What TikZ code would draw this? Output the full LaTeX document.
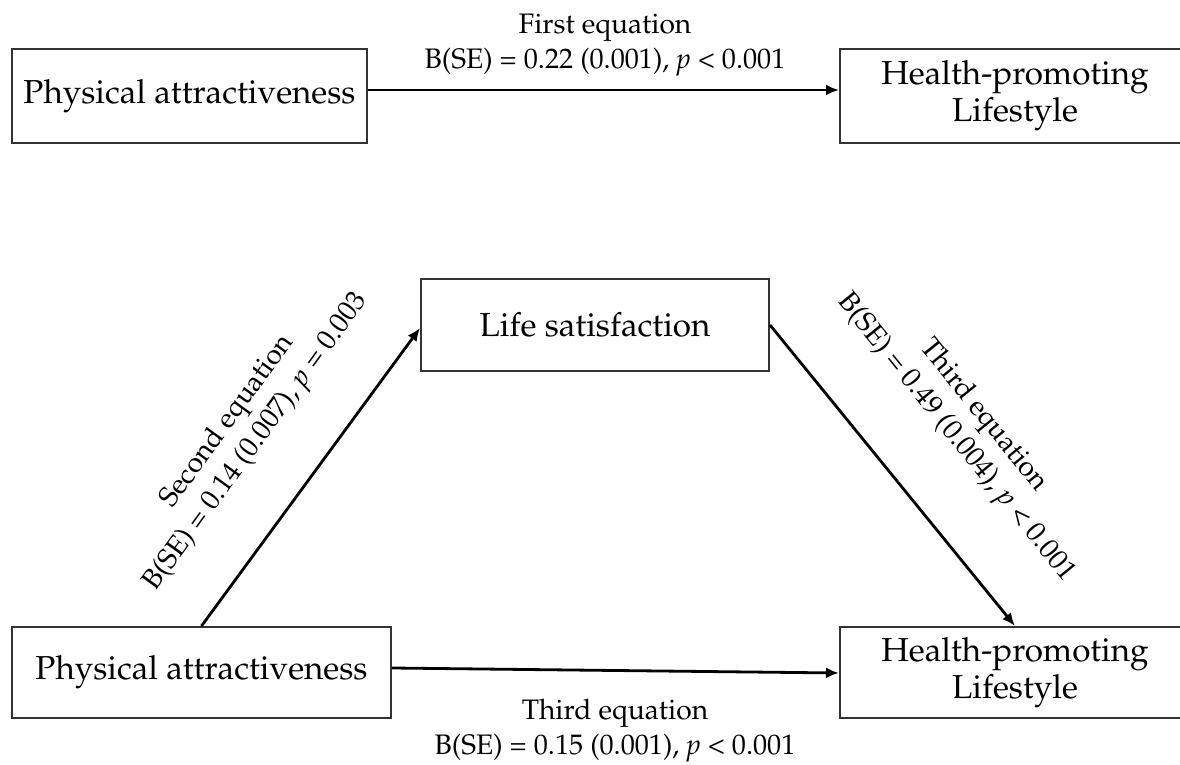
\documentclass[tikz,border=0pt]{standalone}
\usepackage[T1]{fontenc}
\usepackage{mathpazo}
\usetikzlibrary{arrows.meta}
\tikzset{
  box/.style={draw=black!80, line width=1pt, fill=white, inner sep=0pt, align=center,
    font=\fontsize{16.6}{18.5}\selectfont},
  lab/.style={inner sep=0pt, align=center, font=\fontsize{14.1}{17.5}\selectfont},
  arr/.style={line width=1.4pt, -{Latex[length=6.5pt,width=5.5pt]}}
}
\begin{document}
\begin{tikzpicture}[x=0.5pt,y=-0.5pt]
\useasboundingbox (0,0) rectangle (1180,765);
\clip (0,0) rectangle (1180,765);
% top panel
\node[box, minimum width=177.5pt, minimum height=47pt] (tl) at (189.5,96) {Physical attractiveness};
\node[box, minimum width=175pt, minimum height=47pt] (tr) at (1015,96) {Health-promoting\\Lifestyle};
\draw[arr] (tl.east |- 0,90) -- (tr.west |- 0,90);
\node[lab] (l1) at (605,45) {First equation\\B(SE) = 0.22 (0.001), \textit{p} \textless{} 0.001};
% bottom panel
\node[box, minimum width=174pt, minimum height=46pt] (ls) at (595,325) {Life satisfaction};
\node[box, minimum width=189.5pt, minimum height=45.5pt] (bl) at (201.5,672.5) {Physical attractiveness};
\node[box, minimum width=175pt, minimum height=45.5pt] (br) at (1015,672.5) {Health-promoting\\Lifestyle};
\draw[arr] (bl.north) -- (ls.west |- 0,328);
\draw[arr] (ls.east) -- (br.north);
\draw[arr] (bl.east |- 0,668) -- (br.west |- 0,673);
\node[lab, rotate=54] (l2) at (242,432) {Second equation\\B(SE) = 0.14 (0.007), \textit{p} = 0.003};
\node[lab, rotate=-51] (l3) at (969,427) {Third equation\\B(SE) = 0.49 (0.004), \textit{p} \textless{} 0.001};
\node[lab] (l4) at (615,731) {Third equation\\B(SE) = 0.15 (0.001), \textit{p} \textless{} 0.001};
\end{tikzpicture}
\end{document}
